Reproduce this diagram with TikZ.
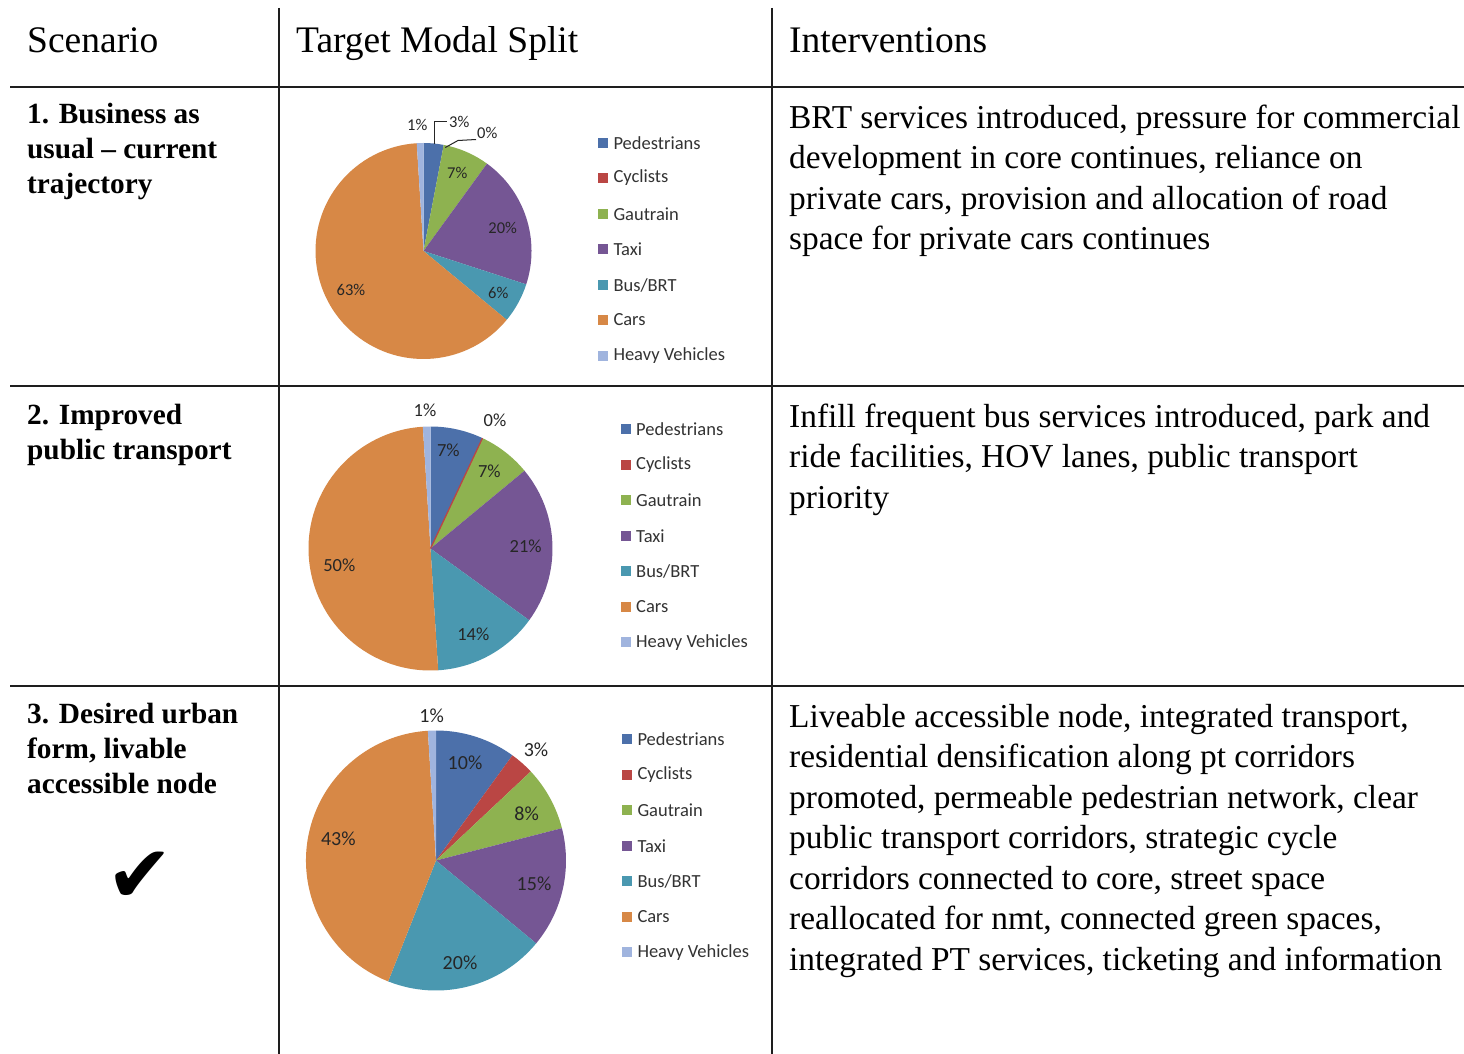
\documentclass[tikz,border=0pt]{standalone}
\usepackage{fontspec}
\setmainfont{Liberation Serif}
\newfontfamily\chartfont{Carlito}
\newfontfamily\symfont{DejaVu Sans}
\definecolor{cPed}{RGB}{76,112,170}
\definecolor{cCyc}{RGB}{186,70,68}
\definecolor{cGau}{RGB}{142,178,80}
\definecolor{cTax}{RGB}{117,86,148}
\definecolor{cBus}{RGB}{74,152,176}
\definecolor{cCar}{RGB}{215,136,70}
\definecolor{cHvy}{RGB}{160,180,222}
\definecolor{gridc}{RGB}{30,30,30}
\newcommand\myslice[6]{\fill[#6] (#1,#2) -- ++(#4:#3) arc[start angle=#4, end angle=#5, radius=#3] -- cycle;}
\begin{document}
\begin{tikzpicture}[x=1pt,y=-1pt,
  grid/.style={line width=2pt, draw=gridc},
  head/.style={anchor=base west, inner sep=0pt, font=\fontsize{37.5}{45}\selectfont},
  scen/.style={anchor=base west, inner sep=0pt, align=left, font=\fontsize{29.3}{35}\selectfont\bfseries},
  interv/.style={anchor=base west, inner sep=0pt, align=left, font=\fontsize{33.4}{40.5}\selectfont},
  pct/.style={inner sep=0pt, text=black!85},
  pctA/.style={pct, font=\chartfont\fontsize{16.5}{18}\selectfont},
  pctB/.style={pct, font=\chartfont\fontsize{18.5}{20}\selectfont},
  pctC/.style={pct, font=\chartfont\fontsize{20}{22}\selectfont},
  leg/.style={anchor=west, inner sep=0pt, font=\chartfont\fontsize{18.5}{20}\selectfont, text=black!80},
  legbox/.style={minimum size=10pt, inner sep=0pt, draw=none},
  leader/.style={line width=1pt, draw=black!85},
]
\useasboundingbox (0,0) rectangle (1464,1054);
\fill[white] (0,0) rectangle (1464,1054);

% ---------- table grid ----------
\coordinate (h1a) at (10,87);   \coordinate (h1b) at (1464,87);
\coordinate (h2a) at (10,386);  \coordinate (h2b) at (1464,386);
\coordinate (h3a) at (10,686);  \coordinate (h3b) at (1464,686);
\coordinate (v1a) at (279,8);   \coordinate (v1b) at (279,1054);
\coordinate (v2a) at (772,8);   \coordinate (v2b) at (772,1054);
\draw[grid, line width=2.4pt] (h1a) -- (h1b);
\draw[grid] (h2a) -- (h2b);
\draw[grid] (h3a) -- (h3b);
\draw[grid] (v1a) -- (v1b);
\draw[grid] (v2a) -- (v2b);

% ---------- headers ----------
\node[head] (hs) at (27,53) {Scenario};
\node[head] (ht) at (296,53) {Target Modal Split};
\node[head] (hi) at (789,53) {Interventions};

% ---------- scenario column (anchor = baseline of last line) ----------
\node[scen] (s1) at (27,193) {1. Business as\\usual -- current\\trajectory};
\node[scen] (s2) at (27,459) {2. Improved\\public transport};
\node[scen] (s3) at (27,793) {3. Desired urban\\form, livable\\accessible node};
\node[inner sep=0pt, font=\symfont\fontsize{80}{86}\selectfont] (chk) at (140,877) {✔};

% ---------- interventions column (anchor = baseline of last line) ----------
\node[interv] (i1) at (789,249.5) {BRT services introduced, pressure for commercial\\development in core continues, reliance on\\private cars, provision and allocation of road\\space for private cars continues};
\node[interv] (i2) at (789,508) {Infill frequent bus services introduced, park and\\ride facilities, HOV lanes, public transport\\priority};
\node[interv] (i3) at (789,970) {Liveable accessible node, integrated transport,\\residential densification along pt corridors\\promoted, permeable pedestrian network, clear\\public transport corridors, strategic cycle\\corridors connected to core, street space\\reallocated for nmt, connected green spaces,\\integrated PT services, ticketing and information};

% ---------- pie 1 ----------
\coordinate (p1) at (423.5,251);
\myslice{423.5}{251}{108}{-90}{-79.2}{cPed}
\myslice{423.5}{251}{108}{-79.2}{-54}{cGau}
\myslice{423.5}{251}{108}{-54}{18}{cTax}
\myslice{423.5}{251}{108}{18}{39.6}{cBus}
\myslice{423.5}{251}{108}{39.6}{266.4}{cCar}
\myslice{423.5}{251}{108}{266.4}{270}{cHvy}
\node[pctA] (p1a) at (417.3,125) {1\%};
\node[pctA] (p1b) at (459.3,121.5) {3\%};
\node[pctA] (p1c) at (487.3,133.3) {0\%};
\node[pctA] (p1d) at (457.3,173.3) {7\%};
\node[pctA] (p1e) at (502.7,228.3) {20\%};
\node[pctA] (p1f) at (498.3,292.7) {6\%};
\node[pctA] (p1g) at (351,290) {63\%};
\coordinate (p1l3) at (434.3,144.5);
\draw[leader] (p1l3) |- ([xshift=-2pt]p1b.west);
\coordinate (p1l0a) at (445.3,147.5);
\coordinate (p1l0b) at (458,140.5);
\coordinate (p1l0c) at (476,139.5);
\draw[leader] (p1l0a) -- (p1l0b) -- (p1l0c);

\foreach \y/\c/\t [count=\i] in {142.7/cPed/Pedestrians,177.7/cCyc/Cyclists,214/cGau/Gautrain,249.3/cTax/Taxi,285/cBus/Bus\slash BRT,320/cCar/Cars,355.7/cHvy/Heavy Vehicles}{
  \node[legbox, fill=\c] (g1b\i) at (603.3,\y) {};
  \node[leg] (g1t\i) at (613.3,\y) {\t};
}

% ---------- pie 2 ----------
\coordinate (p2) at (430.5,548.5);
\myslice{430.5}{548.5}{122}{-90}{-64.8}{cPed}
\myslice{430.5}{548.5}{122}{-64.8}{-39.6}{cGau}
\myslice{430.5}{548.5}{122}{-39.6}{36}{cTax}
\myslice{430.5}{548.5}{122}{36}{86.4}{cBus}
\myslice{430.5}{548.5}{122}{86.4}{266.4}{cCar}
\myslice{430.5}{548.5}{122}{266.4}{270}{cHvy}
\draw[cCyc, line width=1.3pt] (p2) -- ++(-64.8:122);
\node[pctB] (p2a) at (425,410.7) {1\%};
\node[pctB] (p2b) at (495,420.7) {0\%};
\node[pctB] (p2c) at (448.3,450) {7\%};
\node[pctB] (p2d) at (489.3,471.7) {7\%};
\node[pctB] (p2e) at (525.7,546) {21\%};
\node[pctB] (p2f) at (473.3,634) {14\%};
\node[pctB] (p2g) at (339.3,565.7) {50\%};
\foreach \y/\c/\t [count=\i] in {429/cPed/Pedestrians,465/cCyc/Cyclists,500/cGau/Gautrain,535.7/cTax/Taxi,571/cBus/Bus\slash BRT,606.7/cCar/Cars,642.3/cHvy/Heavy Vehicles}{
  \node[legbox, fill=\c] (g2b\i) at (625.7,\y) {};
  \node[leg] (g2t\i) at (636,\y) {\t};
}

% ---------- pie 3 ----------
\coordinate (p3) at (436,860.5);
\myslice{436}{860.5}{130}{-90}{-54}{cPed}
\myslice{436}{860.5}{130}{-54}{-43.2}{cCyc}
\myslice{436}{860.5}{130}{-43.2}{-14.4}{cGau}
\myslice{436}{860.5}{130}{-14.4}{39.6}{cTax}
\myslice{436}{860.5}{130}{39.6}{111.6}{cBus}
\myslice{436}{860.5}{130}{111.6}{266.4}{cCar}
\myslice{436}{860.5}{130}{266.4}{270}{cHvy}
\node[pctC] (p3a) at (431.7,716) {1\%};
\node[pctC] (p3b) at (536,749.3) {3\%};
\node[pctC] (p3c) at (465,762.7) {10\%};
\node[pctC] (p3d) at (526.7,813.3) {8\%};
\node[pctC] (p3e) at (534,883.3) {15\%};
\node[pctC] (p3f) at (460,962.7) {20\%};
\node[pctC] (p3g) at (338.3,839) {43\%};
\foreach \y/\c/\t [count=\i] in {739/cPed/Pedestrians,775/cCyc/Cyclists,810/cGau/Gautrain,845.7/cTax/Taxi,881/cBus/Bus\slash BRT,916.7/cCar/Cars,952.3/cHvy/Heavy Vehicles}{
  \node[legbox, fill=\c] (g3b\i) at (627.3,\y) {};
  \node[leg] (g3t\i) at (637.3,\y) {\t};
}
\end{tikzpicture}
\end{document}
